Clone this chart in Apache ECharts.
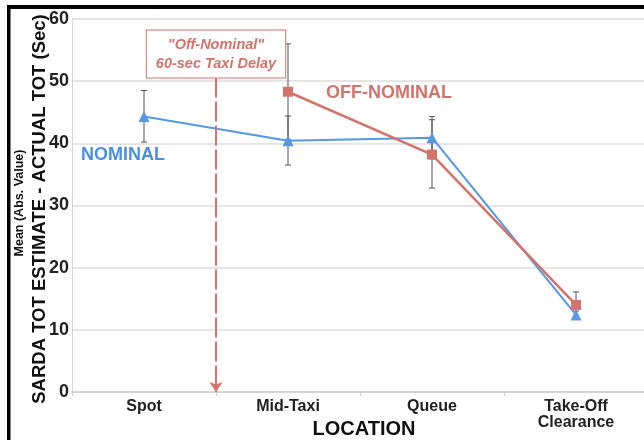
<!DOCTYPE html>
<html><head><meta charset="utf-8">
<script src="https://cdn.jsdelivr.net/npm/echarts@6/dist/echarts.min.js"></script>
<style>html,body{margin:0;padding:0;background:#fff}#c{width:644px;height:440px}</style>
</head><body><div id="c"></div>
<script>
const categories = ['Spot', 'Mid-Taxi', 'Queue', 'Take-Off\nClearance'];
const nominal = [44.3, 40.4, 40.9, 12.4];
const nominalLow = [40.2, 36.5, 37.5, 11.8];
const nominalHigh = [48.5, 44.4, 44.3, 13.0];
const offNominal = [null, 48.3, 38.2, 14.0];
const offLow = [null, 40.6, 32.8, 12.0];
const offHigh = [null, 56.0, 43.8, 16.1];
const yMin = 0, yMax = 60, yStep = 10;
const delayBoundary = 1;      // between Spot and Mid-Taxi on helper axis [0,4]
const delayTop = 50.6, delayBottom = 0;

const BLUE = '#5598e6', RED = '#d4736b';

function errData(lo, hi) {
  const out = [];
  lo.forEach((v, i) => { if (v != null) out.push([i, v, hi[i]]); });
  return out;
}
function errItem(params, api) {
  const x = api.value(0);
  const lo = api.coord([x, api.value(1)]);
  const hi = api.coord([x, api.value(2)]);
  const w = 3;
  const st = { stroke: '#555', lineWidth: 1 };
  return { type: 'group', children: [
    { type: 'line', shape: { x1: lo[0], y1: lo[1], x2: hi[0], y2: hi[1] }, style: st },
    { type: 'line', shape: { x1: lo[0] - w, y1: lo[1], x2: lo[0] + w, y2: lo[1] }, style: st },
    { type: 'line', shape: { x1: hi[0] - w, y1: hi[1], x2: hi[0] + w, y2: hi[1] }, style: st }
  ]};
}

const chart = echarts.init(document.getElementById('c'), null, { renderer: 'canvas' });
chart.setOption({
  animation: false,
  backgroundColor: '#fff',
  grid: { left: 72, top: 19, width: 576, height: 373, containLabel: false, outerBoundsMode: 'none' },
  xAxis: [{
    type: 'category', data: categories, boundaryGap: true,
    axisLine: { show: true, lineStyle: { color: '#cfcfcf', width: 1.5 } },
    axisTick: { show: true, length: 4, lineStyle: { color: '#cfcfcf' } },
    axisLabel: { color: '#222', fontFamily: 'Liberation Sans, Arial', fontWeight: 'bold', fontSize: 16, margin: 7, lineHeight: 16 },
    name: 'LOCATION', nameLocation: 'middle', nameGap: 27, nameMoveOverlap: false,
    nameTextStyle: { color: '#111', fontFamily: 'Liberation Sans, Arial', fontWeight: 'bold', fontSize: 20, padding: [0, 0, 0, 8] }
  }, {
    type: 'value', min: 0, max: 4, show: false
  }],
  yAxis: {
    type: 'value', min: yMin, max: yMax, interval: yStep,
    axisLine: { show: true, lineStyle: { color: '#d8d8d8', width: 1 } },
    axisTick: { show: false },
    splitLine: { lineStyle: { color: '#dddddd', width: 1.5 } },
    axisLabel: { color: '#222', fontFamily: 'Liberation Sans, Arial', fontWeight: 'bold', fontSize: 18, margin: 3 }
  },
  series: [
    { type: 'custom', name: 'errNom', renderItem: errItem, data: errData(nominalLow, nominalHigh), z: 1 },
    { type: 'custom', name: 'errOff', renderItem: errItem, data: errData(offLow, offHigh), z: 1 },
    {
      type: 'line', name: 'NOMINAL', data: nominal, z: 3,
      symbol: 'triangle', symbolSize: 11,
      lineStyle: { color: BLUE, width: 2 }, itemStyle: { color: BLUE }
    },
    {
      type: 'line', name: 'OFF-NOMINAL', data: offNominal, z: 4,
      symbol: 'rect', symbolSize: 10,
      lineStyle: { color: RED, width: 2.5 }, itemStyle: { color: RED }
    },
    {
      type: 'line', xAxisIndex: 1, data: [], silent: true, itemStyle: { color: RED },
      markLine: {
        silent: true, symbol: ['none', 'arrow'], symbolSize: 10,
        itemStyle: { color: RED },
        lineStyle: { color: RED, width: 2, type: [20, 4] },
        label: {
          show: true, position: 'start', distance: 0,
          formatter: '"Off-Nominal"\n60-sec Taxi Delay',
          color: RED, fontFamily: 'Liberation Sans, Arial', fontStyle: 'italic', fontWeight: 'bold',
          fontSize: 14.5, lineHeight: 19, align: 'center',
          backgroundColor: '#fff', borderColor: RED, borderWidth: 1, padding: [5, 9, 4, 9]
        },
        data: [[{ coord: [delayBoundary, delayTop] }, { coord: [delayBoundary, delayBottom] }]]
      }
    }
  ],
  graphic: [
    { type: 'rect', shape: { x: 7, y: 5, width: 640, height: 4 }, style: { fill: '#000' }, z: 100 },
    { type: 'rect', shape: { x: 7, y: 5, width: 3.5, height: 440 }, style: { fill: '#000' }, z: 100 },
    { type: 'text', x: 123, y: 155, style: { text: 'NOMINAL', fill: '#4a8fe2', font: 'bold 18px "Liberation Sans", Arial', textAlign: 'center', textVerticalAlign: 'middle' } },
    { type: 'text', x: 389, y: 93, style: { text: 'OFF-NOMINAL', fill: RED, font: 'bold 18px "Liberation Sans", Arial', textAlign: 'center', textVerticalAlign: 'middle' } },
    { type: 'text', x: 40, y: 209, rotation: Math.PI / 2, style: { text: 'SARDA TOT ESTIMATE - ACTUAL TOT (Sec)', fill: '#111', font: 'bold 18.5px "Liberation Sans", Arial', textAlign: 'center', textVerticalAlign: 'middle' } },
    { type: 'text', x: 20, y: 203, rotation: Math.PI / 2, style: { text: 'Mean (Abs. Value)', fill: '#111', font: 'bold 12.5px "Liberation Sans", Arial', textAlign: 'center', textVerticalAlign: 'middle' } }
  ]
});
</script>
</body></html>
